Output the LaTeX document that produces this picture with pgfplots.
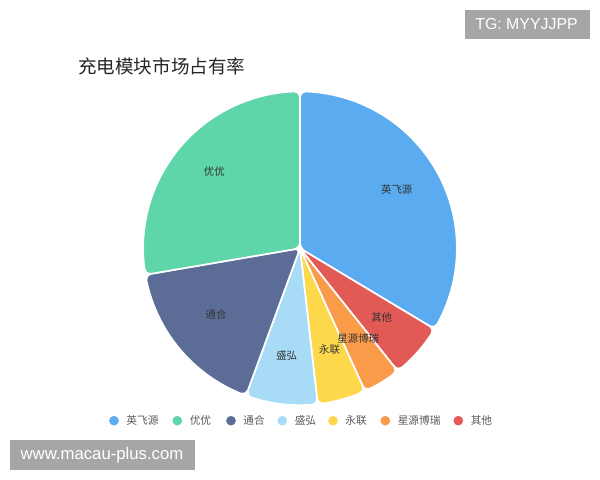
\documentclass[border=0pt]{standalone}
\usepackage{pgfplots}
\pgfplotsset{compat=1.18}
\usepackage{fontspec}
\setmainfont{Noto Sans CJK SC}
\newfontfamily\latin{Liberation Sans}

\definecolor{cyfy}{HTML}{5AABF0}
\definecolor{cyy}{HTML}{5FD5AA}
\definecolor{cth}{HTML}{5B6D96}
\definecolor{csh}{HTML}{A8DCF6}
\definecolor{cyl}{HTML}{FDD84B}
\definecolor{cxy}{HTML}{FA9B4A}
\definecolor{cqt}{HTML}{E25A56}
\definecolor{wm}{HTML}{A6A6A6}

\tikzset{
    lab/.style={font=\fontsize{7.4pt}{8pt}\selectfont, text=black!80},
    leg/.style={anchor=west, font=\fontsize{7.6pt}{8pt}\selectfont, text=black!65},
}

% shares (%), clockwise from the top:
% 英飞源 33.6, 其他 5.7, 星源博瑞 3.9, 永联 5.0, 盛弘 7.4, 通合 16.7, 优优 27.7
% slice angle = 3.6 * share, starting at 90 degrees

\begin{document}
\begin{tikzpicture}
\begin{axis}[
    hide axis, scale only axis,
    width=15cm, height=12cm,
    xmin=0, xmax=600, ymin=-480, ymax=0,
    clip=false,
    slice/.style={fill=#1, draw=white, line width=1.2pt, rounded corners=4pt, no marks},
    dot/.style={only marks, mark=*, mark size=3.2pt, color=#1},
]
\path (0,0) rectangle (600,-480);

% slices
\addplot[slice=cyfy, domain=-30.96:90, samples=29] ({300+157*cos(x)},{-248.3+157*sin(x)}) -- (300,-248.3) -- cycle;
\addplot[slice=cqt, domain=-51.48:-30.96, samples=5] ({300+157*cos(x)},{-248.3+157*sin(x)}) -- (300,-248.3) -- cycle;
\addplot[slice=cxy, domain=-65.52:-51.48, samples=4] ({300+157*cos(x)},{-248.3+157*sin(x)}) -- (300,-248.3) -- cycle;
\addplot[slice=cyl, domain=-83.52:-65.52, samples=5] ({300+157*cos(x)},{-248.3+157*sin(x)}) -- (300,-248.3) -- cycle;
\addplot[slice=csh, domain=-110.16:-83.52, samples=7] ({300+157*cos(x)},{-248.3+157*sin(x)}) -- (300,-248.3) -- cycle;
\addplot[slice=cth, domain=-170.28:-110.16, samples=14] ({300+157*cos(x)},{-248.3+157*sin(x)}) -- (300,-248.3) -- cycle;
\addplot[slice=cyy, domain=-270:-170.28, samples=23] ({300+157*cos(x)},{-248.3+157*sin(x)}) -- (300,-248.3) -- cycle;

% slice labels
\node[lab] at (396.7,-190) {英飞源};
\node[lab] at (214.3,-171.7) {优优};
\node[lab] at (216,-315) {通合};
\node[lab] at (286.7,-355) {盛弘};
\node[lab] at (329.5,-350) {永联};
\node[lab] at (358.3,-338.3) {星源博瑞};
\node[lab] at (381.7,-317.3) {其他};

% title
\node[anchor=west, inner sep=0pt, font=\fontsize{13.2pt}{15pt}\selectfont, text=black!85] at (78,-66) {充电模块市场占有率};

% legend
\addplot[dot=cyfy] coordinates {(114,-420.7)};
\addplot[dot=cyy] coordinates {(177.3,-420.7)};
\addplot[dot=cth] coordinates {(231,-420.7)};
\addplot[dot=csh] coordinates {(282.3,-420.7)};
\addplot[dot=cyl] coordinates {(333,-420.7)};
\addplot[dot=cxy] coordinates {(385.3,-420.7)};
\addplot[dot=cqt] coordinates {(458.3,-420.7)};
\node[leg] at (121.5,-420.7) {英飞源};
\node[leg] at (184.8,-420.7) {优优};
\node[leg] at (238.5,-420.7) {通合};
\node[leg] at (289.8,-420.7) {盛弘};
\node[leg] at (340.5,-420.7) {永联};
\node[leg] at (392.8,-420.7) {星源博瑞};
\node[leg] at (465.8,-420.7) {其他};

% watermarks
\fill[wm] (465,-10) rectangle (590,-39);
\node[text=white, font=\latin\fontsize{11.3pt}{13pt}\selectfont] at (526.5,-24.5) {TG: MYYJJPP};
\fill[wm] (10,-440) rectangle (195,-470);
\node[text=white, font=\latin\fontsize{11.9pt}{13pt}\selectfont] at (102,-455) {www.macau-plus.com};
\end{axis}
\end{tikzpicture}
\end{document}
